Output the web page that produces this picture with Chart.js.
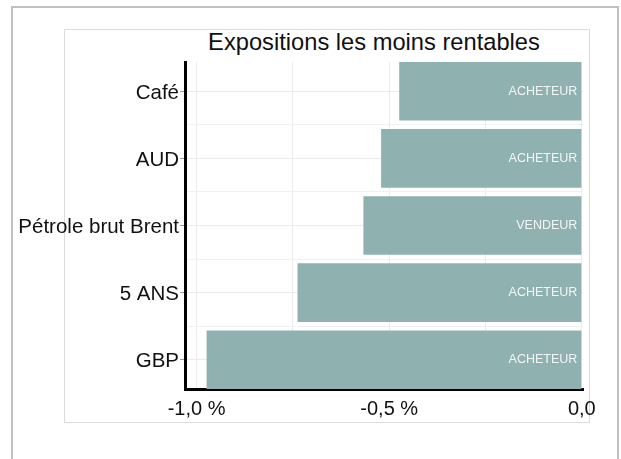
<!DOCTYPE html>
<html lang="fr">
<head>
<meta charset="utf-8">
<title>Expositions les moins rentables</title>
<script src="https://cdn.jsdelivr.net/npm/chart.js@4"></script>
<style>
    html, body { margin: 0; padding: 0; background: #ffffff; }
    body { width: 621px; height: 459px; position: relative; overflow: hidden; }
    .cadre-ext {
        position: absolute; left: 11px; top: 6px; width: 604px; height: 470px;
        border: 2px solid #c0c0c0;
    }
    .cadre-int {
        position: absolute; left: 64px; top: 29px; width: 524px; height: 392px;
        border: 1px solid #dcdcdc;
    }
    .titre {
        position: absolute; left: 164px; top: 28px; width: 420px;
        text-align: center; line-height: 28px;
        font-family: "Liberation Sans", Arial, sans-serif; font-size: 23.7px; color: #111111;
    }
    #graphique { position: absolute; left: 0; top: 0; }
</style>
</head>
<body>
<div class="cadre-ext"></div>
<div class="cadre-int"></div>
<div class="titre">Expositions les moins rentables</div>
<canvas id="graphique" width="621" height="459"></canvas>

<script>
const instruments = ['Café', 'AUD', 'Pétrole brut Brent', '5 ANS', 'GBP'];
const performances = [-0.474, -0.521, -0.567, -0.738, -0.974];
const sens = ['ACHETEUR', 'ACHETEUR', 'VENDEUR', 'ACHETEUR', 'ACHETEUR'];
const graduations = [-1.0, -0.75, -0.5, -0.25, 0.0];

const police = '"Liberation Sans", Arial, sans-serif';

// rang 1..n sur l'axe vertical, pour que les barres touchent les axes comme dans l'original
const rangs = instruments.map((_, i) => i + 1);
const demiBarre = 0.4366;

// Libellé acheteur / vendeur écrit à droite de chaque barre
const etiquettesSens = {
    id: 'etiquettesSens',
    afterDatasetsDraw(chart) {
        const ctx = chart.ctx;
        const barres = chart.getDatasetMeta(0).data;
        ctx.save();
        ctx.font = '12.5px ' + police;
        ctx.fillStyle = '#f3f6f6';
        ctx.textAlign = 'right';
        ctx.textBaseline = 'middle';
        barres.forEach((b, i) => {
            ctx.fillText(sens[i], b.base - 4, b.y);
        });
        ctx.restore();
    }
};

function formatPct(v) {
    if (Math.abs(v) < 1e-9) return '0,0';
    if (Math.abs(v * 2 - Math.round(v * 2)) > 1e-9) return '';
    return v.toFixed(1).replace('.', ',') + ' %';
}

new Chart(document.getElementById('graphique'), {
    type: 'bar',
    data: {
        datasets: [{
            data: performances.map((v, i) => ({ x: v, y: rangs[i] })),
            backgroundColor: '#8fb1b0',
            borderWidth: 0,
            barPercentage: 2 * demiBarre,
            categoryPercentage: 1.0
        }]
    },
    options: {
        indexAxis: 'y',
        responsive: false,
        animation: false,
        layout: { padding: { top: 62, right: 38, bottom: 0, left: 0 } },
        plugins: {
            legend: { display: false },
            tooltip: { enabled: false },
            title: { display: false }
        },
        scales: {
            x: {
                type: 'linear',
                min: -1.03,
                max: 0.003,
                afterBuildTicks: s => { s.ticks = graduations.map(v => ({ value: v })); },
                afterFit: s => { s.height = 70; },
                grid: { color: '#ebebeb', lineWidth: 1, drawTicks: false },
                border: { color: '#000000', width: 3 },
                ticks: {
                    padding: 8,
                    color: '#111111',
                    font: { family: police, size: 20 },
                    maxRotation: 0,
                    autoSkip: false,
                    callback: v => formatPct(v)
                }
            },
            y: {
                type: 'linear',
                reverse: true,
                offset: false,
                min: 1 - demiBarre,
                max: instruments.length + demiBarre,
                afterBuildTicks: s => { s.ticks = rangs.map(v => ({ value: v })); },
                afterFit: s => { s.width = 185; },
                grid: { color: '#ebebeb', lineWidth: 1, offset: false, tickLength: 5, tickColor: '#9a9a9a' },
                border: { color: '#000000', width: 3 },
                ticks: {
                    padding: 1,
                    labelOffset: 2,
                    color: '#111111',
                    font: { family: police, size: 20.5 },
                    autoSkip: false,
                    callback: v => instruments[v - 1]
                }
            },
            yInter: {
                type: 'linear',
                position: 'left',
                reverse: true,
                offset: false,
                min: 1 - demiBarre,
                max: instruments.length + demiBarre,
                afterBuildTicks: s => { s.ticks = rangs.slice(1).map(v => ({ value: v - 0.5 })); },
                grid: { color: '#f1f1f1', lineWidth: 1, offset: false, drawTicks: false },
                border: { display: false },
                ticks: { display: false }
            }
        }
    },
    plugins: [etiquettesSens]
});
</script>
</body>
</html>
